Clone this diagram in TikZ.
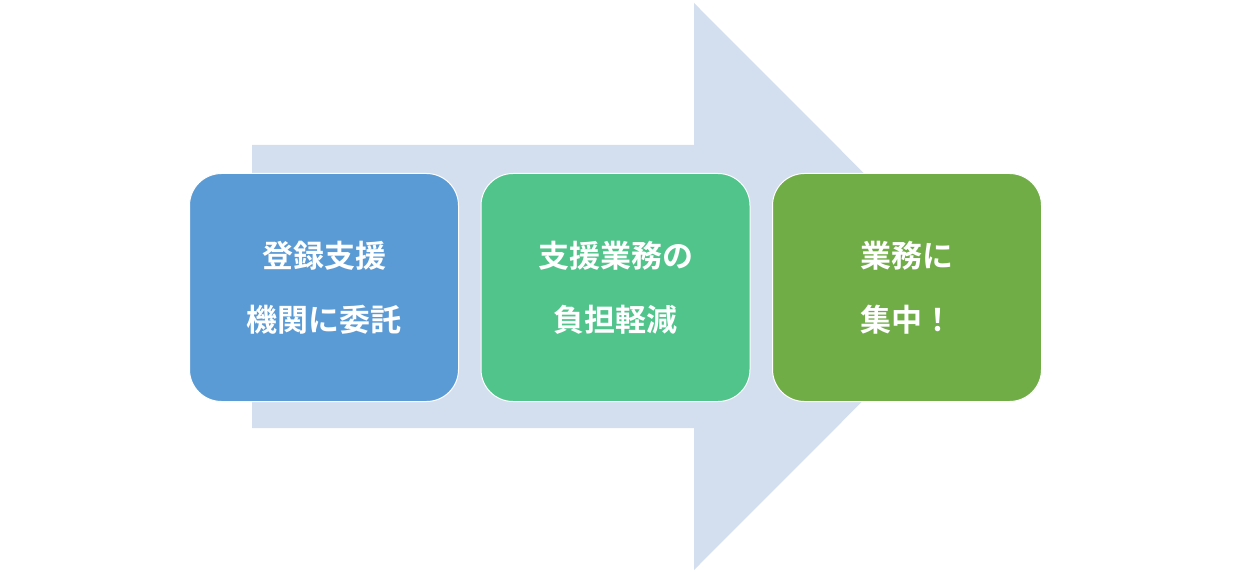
\documentclass[tikz,border=0pt]{standalone}
\usepackage{fontspec}
\newfontfamily\cjk[BoldFont={Noto Sans CJK JP Bold}]{Noto Sans CJK JP}
\definecolor{arrowc}{HTML}{D3DEEF}
\definecolor{c1}{HTML}{5B9BD5}
\definecolor{c2}{HTML}{50C48B}
\definecolor{c3}{HTML}{70AD47}
\begin{document}
\begin{tikzpicture}[x=1pt,y=-1pt,
  box/.style={draw=white,line width=1pt,rounded corners=32pt,minimum width=269pt,minimum height=228pt,
    text=white,font=\cjk\bfseries\fontsize{31}{64}\selectfont,align=center,inner sep=0pt}]
\useasboundingbox (0,0) rectangle (1248,572);
\fill[arrowc] (252,145) -- (694,145) -- (694,3) -- (977,286.5) -- (694,570) -- (694,428) -- (252,428) -- cycle;
\node[box,fill=c1] (a) at (324,287.5) {登録支援\\機関に委託};
\node[box,fill=c2] (b) at (615.5,287.5) {支援業務の\\負担軽減};
\node[box,fill=c3] (c) at (907,287.5) {業務に\\集中！};
\end{tikzpicture}
\end{document}
